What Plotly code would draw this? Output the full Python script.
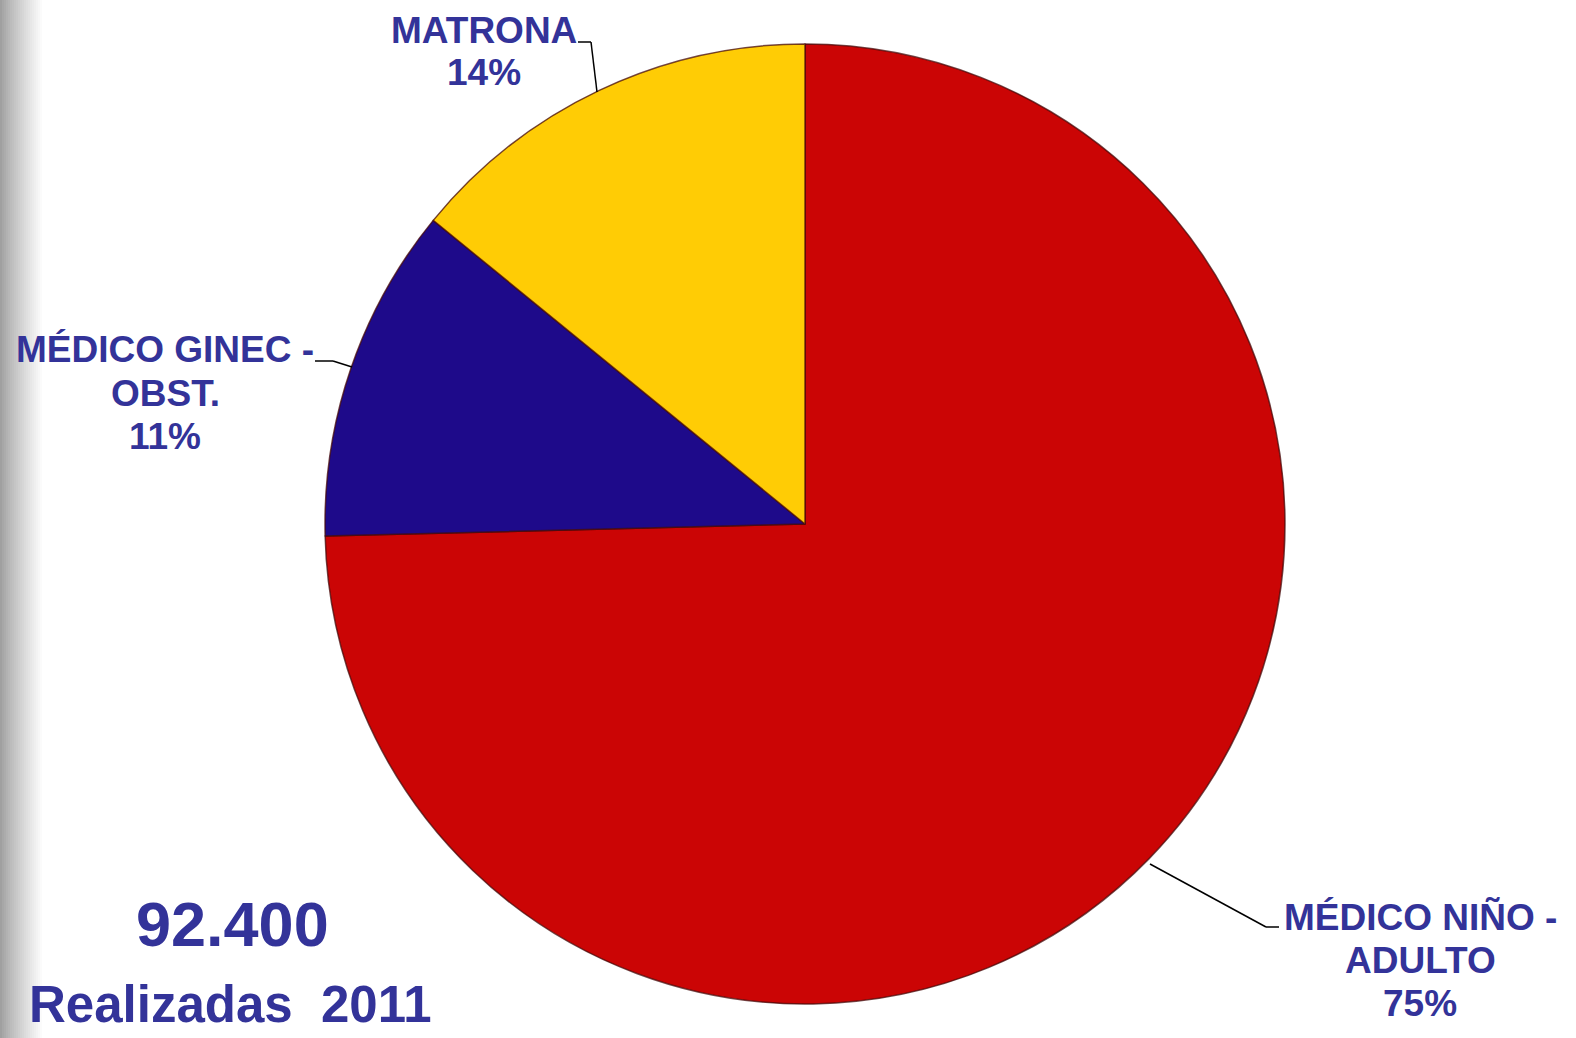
import plotly.graph_objects as go

W, H = 1576, 1038

categories = ["MÉDICO NIÑO - ADULTO", "MÉDICO GINEC - OBST.", "MATRONA"]
label_lines = [["MÉDICO NIÑO -", "ADULTO"], ["MÉDICO GINEC -", "OBST."], ["MATRONA"]]
values = [74.6, 11.3, 14.1]
pct_labels = ["75%", "11%", "14%"]
colors = ["#CB0505", "#1E0A8A", "#FFCC05"]
total_text = "92.400"
subtitle_text = "Realizadas  2011"

TEXT_COLOR = "#333399"
FONT = "Liberation Sans, Arial, sans-serif"


def px(x):
    return x / W


def py(y):
    return 1 - y / H


fig = go.Figure()
fig.add_trace(go.Pie(
    labels=categories,
    values=values,
    sort=False,
    direction="clockwise",
    rotation=0,
    textinfo="none",
    hoverinfo="label+percent",
    marker=dict(colors=colors, line=dict(color="rgba(70,10,10,0.75)", width=1.5)),
    domain=dict(x=[px(325), px(1285)], y=[py(1004), py(44)]),
    showlegend=False,
))

shapes = []
# left edge gray gradient strip
for x0 in range(0, 44, 2):
    t = x0 / 42
    g = int(160 + 95 * min(1, t) ** 0.85)
    shapes.append(dict(type="rect", xref="paper", yref="paper",
                       x0=px(x0), x1=px(x0 + 2), y0=0, y1=1,
                       line=dict(width=0), fillcolor=f"rgb({g},{g},{g})", layer="below"))

# leader lines
leaders = [
    [(1150, 864), (1266, 927), (1279, 927)],
    [(352, 367), (333, 361), (315, 361)],
    [(597, 92), (591, 42), (578, 42)],
]
for pts in leaders:
    for (xa, ya), (xb, yb) in zip(pts[:-1], pts[1:]):
        shapes.append(dict(type="line", xref="paper", yref="paper",
                           x0=px(xa), y0=py(ya), x1=px(xb), y1=py(yb),
                           line=dict(color="black", width=1.5)))

annotations = []
label_pos = [(1420, 917), (165, 350), (484, 30)]
LINE_H = 43
for lines, pct, (lx, ly) in zip(label_lines, pct_labels, label_pos):
    for k, line in enumerate(lines + [pct]):
        annotations.append(dict(
            text=f"<b>{line}</b>", x=px(lx), y=py(ly + k * LINE_H), xref="paper", yref="paper",
            xanchor="center", yanchor="middle", showarrow=False, align="center",
            font=dict(family=FONT, size=37, color=TEXT_COLOR)))

annotations.append(dict(
    text=f"<b>{total_text}</b>", x=px(232), y=py(924), xref="paper", yref="paper",
    xanchor="center", yanchor="middle", showarrow=False,
    font=dict(family=FONT, size=63, color=TEXT_COLOR)))
annotations.append(dict(
    text=f"<b>{subtitle_text}</b>", x=px(230), y=py(1004), xref="paper", yref="paper",
    xanchor="center", yanchor="middle", showarrow=False,
    font=dict(family=FONT, size=51, color=TEXT_COLOR)))

fig.update_layout(
    width=W, height=H,
    margin=dict(l=0, r=0, t=0, b=0),
    paper_bgcolor="white",
    plot_bgcolor="white",
    shapes=shapes,
    annotations=annotations,
)

fig.write_html("out.html", config={"displayModeBar": False},
               post_script="document.body.style.margin='0';document.body.style.overflow='hidden';")
